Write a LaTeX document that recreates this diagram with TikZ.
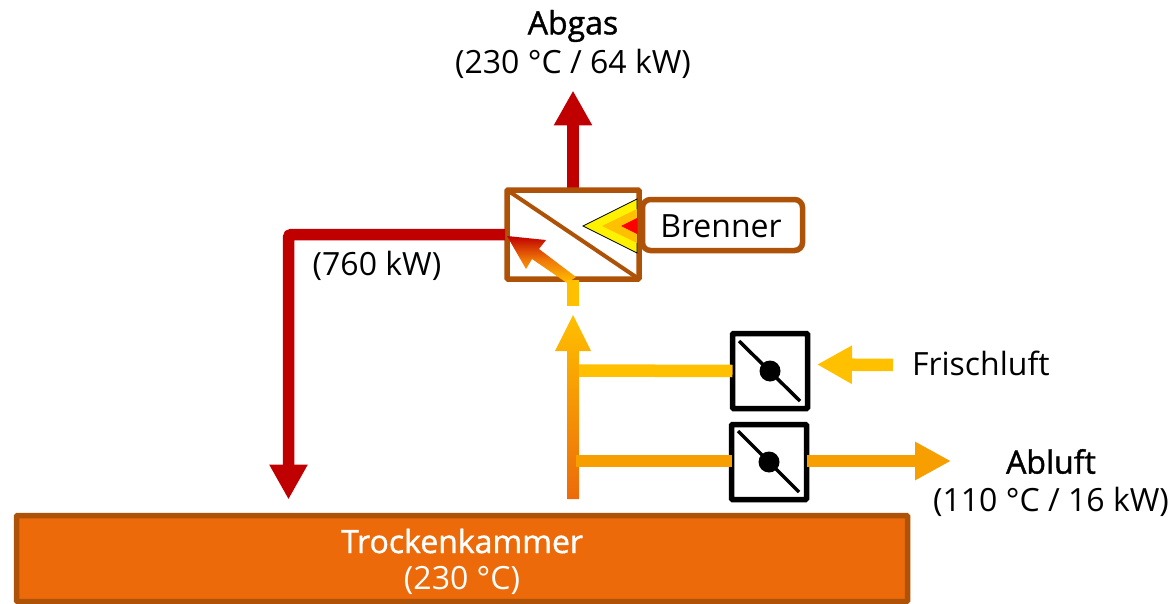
\documentclass[tikz,border=0pt]{standalone}
\usepackage{fontspec}
\setmainfont{Open Sans}
\newfontfamily\medfont[FakeBold=1.2]{Open Sans}
\usetikzlibrary{arrows.meta,positioning}
\definecolor{brownline}{HTML}{AE5207}
\definecolor{chamber}{HTML}{EC6A0A}
\definecolor{hot}{HTML}{C00000}
\definecolor{warm}{HTML}{FFC000}
\definecolor{mid}{HTML}{F79F00}
\tikzset{
  every node/.style={font=\fontsize{32}{38}\selectfont, inner sep=0pt, outer sep=0pt},
  boldlabel/.style={font=\fontsize{32}{38}\selectfont\medfont},
  hotflow/.style={draw=hot, line width=11.5pt, -{Triangle[length=35pt,width=36pt]}},
  warmflow/.style={draw=warm, line width=12.5pt, -{Triangle[length=36pt,width=36pt]}},
  midflow/.style={draw=mid, line width=12pt, -{Triangle[length=36pt,width=36pt]}},
  plainflow/.style={line width=12.5pt},
  damper/.style={draw=black, fill=white, line width=5.5pt, rounded corners=1pt, minimum width=75pt, minimum height=75pt},
  blade/.style={draw=black, line width=3.5pt},
  hub/.style={circle, fill=black, minimum size=21pt},
  brownbox/.style={draw=brownline, line width=5.5pt, fill=white}
}
\begin{document}
\begin{tikzpicture}[x=1pt,y=-1pt]
\useasboundingbox (0,0) rectangle (1174,604);

% chamber
\node[brownbox, fill=chamber, rounded corners=1pt, minimum width=891pt, minimum height=86pt, anchor=north west] (kammer) at (16.5,515.5) {};
\node[boldlabel, text=white] (kammerA) at (462,541) {Trockenkammer};
\node[text=white] (kammerB) at (462,580) {(230 °C)};

% exhaust arrow
\coordinate (abgasEnd) at (573,90.5);
\coordinate (waermeOut) at (573,190);
\draw[hotflow] (waermeOut) -- (abgasEnd);

% heat exchanger
\node[brownbox, rounded corners=1pt, minimum width=132pt, minimum height=89pt] (wt) at (573,234.5) {};
\draw[brownline, line width=4pt] (wt.north west) -- (wt.south east);

% red supply line
\coordinate (hotStart) at (505,234.5);
\coordinate (hotCorner) at (288.5,234.5);
\coordinate (hotEnd) at (288.5,499.5);
\draw[hotflow, rounded corners=3pt] (hotStart) -- (hotCorner) -- (hotEnd);

% flame
\fill[yellow, draw=black, line width=0.7pt] (637,199) -- (583,226) -- (637,253) -- cycle;
\fill[warm] (637,209) -- (602,226) -- (637,243) -- cycle;
\fill[red] (637,218) -- (621,226) -- (637,234) -- cycle;

% burner
\node[brownbox, rounded corners=8pt, minimum width=160pt, minimum height=51pt] (brenner) at (722.5,225) {};
\node (brennerText) at (721,226.5) {Brenner};

% diagonal arrow in exchanger
\shade[bottom color=warm, top color=hot, middle color=chamber!85!warm]
  (576,277) -- (567,283) -- (532,259) -- (526,269) -- (507,236) -- (546,240) -- (539,249) -- cycle;

% stub
\coordinate (stubA) at (573,280);
\coordinate (stubB) at (573,306);
\draw[warm, plainflow, line width=12pt] (stubA) -- (stubB);

% rising gradient arrow
\shade[bottom color=chamber, top color=warm]
  (567,499) -- (567,351) -- (555,351) -- (573,315) -- (591,351) -- (579,351) -- (579,499) -- cycle;

% dampers
\node[damper] (klappeA) at (770,371) {};
\node[damper] (klappeB) at (769,462) {};
\coordinate (bladeA1) at (739,341);
\coordinate (bladeA2) at (800,401);
\coordinate (bladeB1) at (738,431);
\coordinate (bladeB2) at (799,492);
\draw[blade] (bladeA1) -- (bladeA2);
\draw[blade] (bladeB1) -- (bladeB2);
\node[hub] (hubA) at (klappeA) {};
\node[hub] (hubB) at (klappeB) {};

% branches
\coordinate (riserA) at (579,370.5);
\coordinate (riserB) at (576,461);
\draw[warm, plainflow] (riserA) -- (klappeA.west);
\draw[mid, line width=12pt] (riserB) -- (klappeB.west |- riserB);
\coordinate (abluftEnd) at (951,461);
\draw[midflow] (klappeB.east |- riserB) -- (abluftEnd);
\coordinate (frischStart) at (893,365);
\coordinate (frischEnd) at (817,364.5);
\draw[warmflow, -{Triangle[length=35pt,width=36pt]}] (frischStart) -- (frischEnd);

% labels
\node[boldlabel] (abgasA) at (573,26) {Abgas};
\node (abgasB) at (573,64) {(230 °C / 64 kW)};
\node (leistung) at (377,266) {(760 kW)};
\node[anchor=west] (frisch) at (912,363.5) {Frischluft};
\node[boldlabel] (abluftA) at (1051,461.5) {Abluft};
\node (abluftB) at (1051,502) {(110 °C / 16 kW)};
\end{tikzpicture}
\end{document}
